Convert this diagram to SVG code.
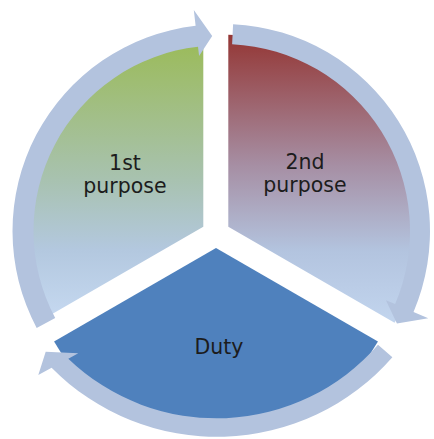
<svg xmlns="http://www.w3.org/2000/svg" width="434" height="439" viewBox="0 0 434 439">
  <defs>
    <linearGradient id="gGreen" gradientUnits="userSpaceOnUse" x1="0" y1="40" x2="0" y2="320">
      <stop offset="0" stop-color="#9bbb59"/>
      <stop offset="0.5" stop-color="#a8c2b0"/>
      <stop offset="0.75" stop-color="#b3c8df"/>
      <stop offset="1" stop-color="#c6d9f1"/>
    </linearGradient>
    <linearGradient id="gRed" gradientUnits="userSpaceOnUse" x1="0" y1="35" x2="0" y2="323">
      <stop offset="0" stop-color="#943634"/>
      <stop offset="0.45" stop-color="#a68ea3"/>
      <stop offset="0.75" stop-color="#b3c4df"/>
      <stop offset="1" stop-color="#c2d5ee"/>
    </linearGradient>
    <style>
      .lbl { font-family: "DejaVu Sans", "Liberation Sans", sans-serif; font-size: 20.5px; fill: #1c1c1c; text-anchor: middle; }
      .ring { fill: #b3c3de; stroke: none; }
    </style>
  </defs>
  <rect width="434" height="439" fill="#ffffff"/>

  <g id="node-1st">
    <path d="M 203.3,226.7 L 41.35,320.2 A 187 187 0 0 1 203.3,39.7 Z" fill="url(#gGreen)"/>
    <text class="lbl" x="125" y="170">1st</text>
    <text class="lbl" x="125" y="192.7">purpose</text>
  </g>

  <g id="node-2nd">
    <path d="M 228.3,226.7 L 228.3,34.7 A 192 192 0 0 1 394.58,322.7 Z" fill="url(#gRed)"/>
    <text class="lbl" x="305" y="169">2nd</text>
    <text class="lbl" x="305" y="191.7">purpose</text>
  </g>

  <g id="node-duty">
    <path d="M 216,248 L 377.95,341.5 A 187 187 0 0 1 54.05,341.5 Z" fill="#4f81bd"/>
    <text class="lbl" x="219" y="354">Duty</text>
  </g>

  <g id="connectors">
    <path class="ring" d="M 36.67,327.94 A 206.5 206.5 0 0 1 195.62,25.83 L 193.8,9.93 L 212.2,36.1 L 199.1,56.1 L 198.0,46.7 A 185.5 185.5 0 0 0 55.21,318.09 Z"/>
    <path class="ring" d="M 233.1,24.25 A 207 207 0 0 1 413.54,311.88 L 428.27,318.13 L 396.94,323.49 L 385.93,300.16 L 395.13,304.07 A 187 187 0 0 0 232.1,44.2 Z"/>
    <path class="ring" d="M 392.38,357.25 A 233 233 0 0 1 51.6,367.8 L 38.3,375 L 45.7,351.7 L 78.3,353.3 L 68.3,358.7 A 214 214 0 0 0 378.0,344.83 Z"/>
  </g>
</svg>
